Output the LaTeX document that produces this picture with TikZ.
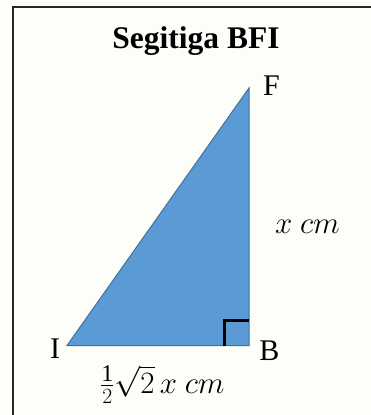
\RequirePackage{fix-cm}
\documentclass[tikz,border=0pt]{standalone}
\usepackage{fontspec}
\setmainfont{Liberation Serif}
\definecolor{trifill}{HTML}{5B9BD5}
\definecolor{triline}{HTML}{41719C}
\definecolor{bgcol}{HTML}{FDFDF9}
\begin{document}
\begin{tikzpicture}[x=1pt,y=-1pt,
  lbl/.style={inner sep=0pt,anchor=base,font=\fontsize{30}{34}\selectfont},
  mlbl/.style={inner sep=0pt,anchor=base,font=\fontsize{31}{36}\selectfont},
  frame/.style={line width=2pt,draw=black!85}]
\useasboundingbox (0,0) rectangle (371,415);
\fill[bgcol] (0,0) rectangle (371,415);
\draw[frame] (13,415) -- (13,7) -- (371,7);
\node[inner sep=0pt,anchor=base,font=\fontsize{31.5}{36}\selectfont\bfseries] (title) at (196,48) {Segitiga BFI};
\coordinate (I) at (67,345.5);
\coordinate (B) at (249,345.5);
\coordinate (F) at (249,88);
\filldraw[fill=trifill,draw=triline,line width=1pt,line join=miter] (I) -- (B) -- (F) -- cycle;
\coordinate (r1) at (224,345.5);
\coordinate (r2) at (224,320);
\coordinate (r3) at (249,320);
\draw[line width=3pt,black] (r1) -- (r2) -- (r3);
\node[lbl] (lF) at (271.5,95) {F};
\node[lbl] (lI) at (55,358) {I};
\node[lbl] (lB) at (269.5,360) {B};
\node[mlbl] (lx) at (307.5,233) {$x\ cm$};
\node[mlbl,anchor=base west] (lbase) at (100,393) {$\frac{\raisebox{-1pt}{\fontsize{24}{26}\selectfont 1}}{\fontsize{24}{26}\selectfont 2}\sqrt{2}\,x\ cm$};
\end{tikzpicture}
\end{document}
